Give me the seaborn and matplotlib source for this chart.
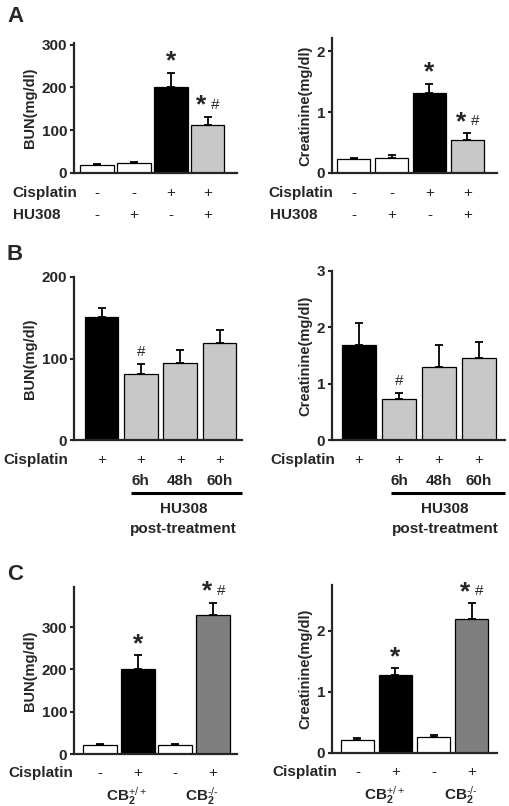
import numpy as np
import matplotlib
matplotlib.use("Agg")
import matplotlib.pyplot as plt
import seaborn as sns

# values (mean, upper SEM)
groups = ["g1", "g2", "g3", "g4"]

a_bun_mean = [19.5, 23, 202, 112.5]
a_bun_err = [2.5, 3, 33, 19.5]
a_cre_mean = [0.23, 0.25, 1.32, 0.55]
a_cre_err = [0.02, 0.04, 0.15, 0.11]

b_bun_mean = [151, 81.5, 95, 119.5]
b_bun_err = [11.5, 11.5, 15, 15.5]
b_cre_mean = [1.69, 0.73, 1.29, 1.45]
b_cre_err = [0.39, 0.11, 0.40, 0.29]

c_bun_mean = [21, 202, 21, 328.5]
c_bun_err = [2.5, 32, 2, 29.5]
c_cre_mean = [0.22, 1.27, 0.26, 2.19]
c_cre_err = [0.02, 0.12, 0.03, 0.26]

a_colors = ["white", "white", "black", "#c8c8c8"]
b_colors = ["black", "#c8c8c8", "#c8c8c8", "#c8c8c8"]
c_colors = ["white", "black", "white", "#7f7f7f"]

a_cis = ["-", "-", "+", "+"]
a_hu = ["-", "+", "-", "+"]
b_cis = ["+", "+", "+", "+"]
b_hours = ["", "6h", "48h", "60h"]
c_cis = ["-", "+", "-", "+"]
c_geno = [r"$\mathbf{CB}_{\mathbf{2}}^{+/+}$", r"$\mathbf{CB}_{\mathbf{2}}^{\text{-/-}}$"]

a_bun_marks = ["", "", "*", "*#"]
a_cre_marks = ["", "", "*", "*#"]
b_marks = ["", "#", "", ""]
c_marks = ["", "*", "", "*#"]

sns.set_style("ticks")
plt.rcParams["font.family"] = ["Liberation Sans", "DejaVu Sans"]
plt.rcParams["mathtext.fontset"] = "custom"
plt.rcParams["mathtext.rm"] = "Liberation Sans"
plt.rcParams["mathtext.bf"] = "Liberation Sans:bold"
plt.rcParams["mathtext.it"] = "Liberation Sans:italic"

FS = 11
W, H = 510, 806
fig = plt.figure(figsize=(W / 100, H / 100), dpi=100)


def make_ax(l, t, r, b):
    return fig.add_axes([l / W, (H - b) / H, (r - l) / W, (b - t) / H])


def bar_panel(ax, mean, err, colors, width, xlim, ylim, yticks, ylabel, marks):
    df = {"group": groups, "value": mean}
    sns.barplot(x="group", y="value", hue="group", data=df, palette=colors,
                width=width, edgecolor="black", linewidth=0.9, errorbar=None,
                legend=False, ax=ax, saturation=1)
    ax.errorbar(range(len(mean)), mean, yerr=[np.zeros(len(err)), err], fmt="none",
                ecolor="black", elinewidth=1.3, capsize=3, capthick=1.3, zorder=1)
    ax.set_xlim(xlim)
    ax.set_ylim(0, ylim)
    ax.set_yticks(yticks)
    ax.set_xticks([])
    ax.set_xlabel("")
    ax.set_ylabel(ylabel, fontsize=10.5, fontweight="bold", labelpad=3)
    for lab in ax.get_yticklabels():
        lab.set_fontweight("bold")
    ax.tick_params(axis="y", length=3, width=1.5, labelsize=FS, pad=2)
    sns.despine(ax=ax)
    for s in ["left", "bottom"]:
        ax.spines[s].set_linewidth(1.6)
    for i, m in enumerate(marks):
        if not m:
            continue
        top = mean[i] + err[i]
        if m == "*":
            ax.annotate("*", xy=(i, top), xytext=(0, 4), textcoords="offset pixels",
                        ha="center", va="baseline", fontsize=19, fontweight="bold")
        elif m == "#":
            ax.annotate("#", xy=(i, top), xytext=(0, 8), textcoords="offset pixels",
                        ha="center", va="baseline", fontsize=11)
        else:
            ax.annotate("*", xy=(i, top), xytext=(-6, 4), textcoords="offset pixels",
                        ha="center", va="baseline", fontsize=19, fontweight="bold")
            ax.annotate("#", xy=(i, top), xytext=(8, 8), textcoords="offset pixels",
                        ha="center", va="baseline", fontsize=11)


def sign_row(ax, labels, dy, bold=False, size=FS):
    for i, lab in enumerate(labels):
        if lab:
            ax.annotate(lab, xy=(i, 0), xycoords=ax.get_xaxis_transform(),
                        xytext=(0, -dy), textcoords="offset pixels", ha="center",
                        va="center", fontsize=size,
                        fontweight="bold" if bold else "normal")


def row_title(ax, text, dx, dy):
    ax.annotate(text, xy=(0, 0), xycoords="axes fraction", xytext=(dx, -dy),
                textcoords="offset pixels", ha="left", va="center",
                fontsize=FS, fontweight="bold")


# panel A
ax = make_ax(74, 43, 237, 173)
bar_panel(ax, a_bun_mean, a_bun_err, a_colors, 0.92, (-0.625, 3.8), 304,
          [0, 100, 200, 300], "BUN(mg/dl)", a_bun_marks)
sign_row(ax, a_cis, 20)
sign_row(ax, a_hu, 42)
row_title(ax, "Cisplatin", -62, 20)
row_title(ax, "HU308", -61, 42)

ax = make_ax(332, 38, 497, 173)
bar_panel(ax, a_cre_mean, a_cre_err, a_colors, 0.88, (-0.57, 3.78), 2.22,
          [0, 1, 2], "Creatinine(mg/dl)", a_cre_marks)
sign_row(ax, a_cis, 20)
sign_row(ax, a_hu, 42)
row_title(ax, "Cisplatin", -64, 20)
row_title(ax, "HU308", -62, 42)

# panel B
for (l, t, r, b), mean, err, width, xlim, ylim, yt, yl, x0, dx in [
        ((74, 277, 242, 440), b_bun_mean, b_bun_err, 0.86, (-0.70, 3.57), 200,
         [0, 100, 200], "BUN(mg/dl)", 0.75, -71),
        ((332, 271, 505, 440), b_cre_mean, b_cre_err, 0.85, (-0.675, 3.65), 3,
         [0, 1, 2, 3], "Creatinine(mg/dl)", 0.8, -62)]:
    ax = make_ax(l, t, r, b)
    bar_panel(ax, mean, err, b_colors, width, xlim, ylim, yt, yl, b_marks)
    sign_row(ax, b_cis, 20)
    sign_row(ax, b_hours, 41, bold=True)
    row_title(ax, "Cisplatin", dx, 20)
    ypx = -53 / (b - t)
    ax.plot([x0, xlim[1]], [ypx, ypx], color="black", lw=2.2,
            transform=ax.get_xaxis_transform(), clip_on=False, solid_capstyle="butt")
    xc = (x0 + xlim[1]) / 2
    for txt, dy in [("HU308", 69), ("post-treatment", 89)]:
        ax.annotate(txt, xy=(xc, 0), xycoords=ax.get_xaxis_transform(),
                    xytext=(-3, -dy), textcoords="offset pixels", ha="center",
                    va="center", fontsize=FS, fontweight="bold")

# panel C
for (l, t, r, b), mean, err, width, xlim, ylim, yt, yl, dx in [
        ((74, 587, 237, 754), c_bun_mean, c_bun_err, 0.9, (-0.69, 3.64), 395,
         [0, 100, 200, 300], "BUN(mg/dl)", -66),
        ((332, 585, 497, 753), c_cre_mean, c_cre_err, 0.87, (-0.67, 3.67), 2.75,
         [0, 1, 2], "Creatinine(mg/dl)", -60)]:
    ax = make_ax(l, t, r, b)
    bar_panel(ax, mean, err, c_colors, width, xlim, ylim, yt, yl, c_marks)
    sign_row(ax, c_cis, 19)
    row_title(ax, "Cisplatin", dx, 19)
    for j, g in enumerate(c_geno):
        ax.annotate(g, xy=(2 * j + 0.5, 0), xycoords=ax.get_xaxis_transform(),
                    xytext=(8, -47), textcoords="offset pixels", ha="center",
                    va="baseline", fontsize=FS)

for letter, y in [("A", 17), ("B", 255), ("C", 574)]:
    fig.text(7 / W, 1 - y / H, letter, fontsize=16, fontweight="bold",
             ha="left", va="center")

fig.savefig("out.png", dpi=100)
